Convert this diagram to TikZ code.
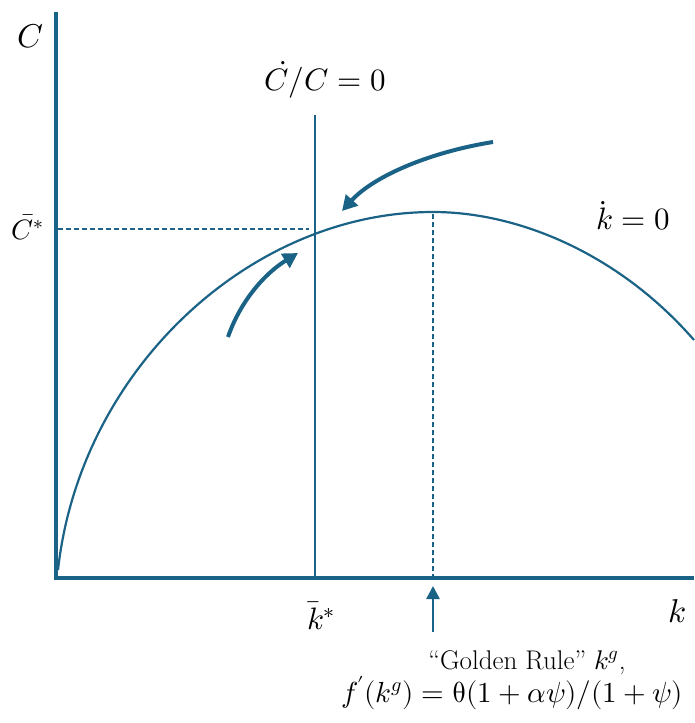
\documentclass[tikz,border=0pt]{standalone}
\usepackage{fontspec}
\usepackage{unicode-math}
\usetikzlibrary{arrows.meta}
\definecolor{econblue}{RGB}{26,99,134}
\tikzset{
  axisline/.style={draw=econblue, line width=4pt, line join=miter},
  locus/.style={draw=econblue, line width=2.6pt},
  curveline/.style={draw=econblue, line width=2.2pt},
  guide/.style={draw=econblue, line width=1.5pt, dash pattern=on 5pt off 3pt},
  flow/.style={draw=econblue, line width=4pt, -{Triangle[length=15pt,width=16pt]}},
  pointer/.style={draw=econblue, line width=2.5pt, -{Triangle[length=13pt,width=13pt]}},
  lab/.style={font=\fontsize{31}{36}\selectfont, text=black, inner sep=0pt},
  smlab/.style={font=\fontsize{28}{32}\selectfont, text=black, inner sep=0pt},
  biglab/.style={font=\fontsize{33}{38}\selectfont, text=black, inner sep=0pt},
  txt/.style={font=\fontsize{27}{31}\selectfont, text=black, inner sep=0pt, anchor=base},
  eqtxt/.style={font=\fontsize{29}{33}\selectfont, text=black, inner sep=0pt, anchor=base east}
}
\begin{document}
\begin{tikzpicture}[x=1pt,y=-1pt]
\useasboundingbox (0,0) rectangle (694,723);
% coordinates
\coordinate (O) at (56,578);
\coordinate (Ytop) at (56,12);
\coordinate (Xend) at (694,578);
\coordinate (Vtop) at (315,115);
\coordinate (Vbot) at (315,576);
\coordinate (K0) at (58,570);
\coordinate (Kpk) at (433,212);
\coordinate (Kend) at (694,340);
\coordinate (Cst) at (58,229);
\coordinate (SS) at (309,229);
\coordinate (Gtop) at (433,214);
\coordinate (Gbot) at (433,576);
\coordinate (A1s) at (493,142);
\coordinate (A1e) at (342,211);
\coordinate (A2s) at (228,337);
\coordinate (A2e) at (298,253);
\coordinate (Ps) at (433,632);
\coordinate (Pe) at (433,586);
% guides
\draw[guide] (Cst) -- (SS);
\draw[guide] (Gtop) -- (Gbot);
% axes
\draw[axisline] (Ytop) -- (O) -- (Xend);
% C dot / C = 0 locus
\draw[locus] (Vtop) -- (Vbot);
% k dot = 0 curve
\draw[curveline] (K0) .. controls (80,370) and (250,212) .. (Kpk) .. controls (520,212) and (620,255) .. (Kend);
% flow arrows
\draw[flow] (A1s) .. controls (425,153) and (372,178) .. (A1e);
\draw[flow] (A2s) .. controls (240,302) and (264,274) .. (A2e);
\draw[pointer] (Ps) -- (Pe);
% labels
\node[biglab] (lC) at (31,36) {$C$};
\node[lab] (lCC) at (325,80) {$\dot{C}/C=0$};
\node[smlab] (lCs) at (28,227) {$\bar{C}^{*}$};
\node[lab] (lk0) at (633,216) {$\dot{k}=0$};
\node[lab] (lks) at (321,616) {$\bar{k}^{*}$};
\node[biglab] (lk) at (677,611) {$k$};
\node[txt] (lg1) at (527,669) {“Golden Rule" $k^{g}$,};
\node[eqtxt] (lg2) at (683,702) {$f^{\prime}(k^{g})=\symup{\theta}(1+\alpha\psi)/(1+\psi)$};
\end{tikzpicture}
\end{document}
